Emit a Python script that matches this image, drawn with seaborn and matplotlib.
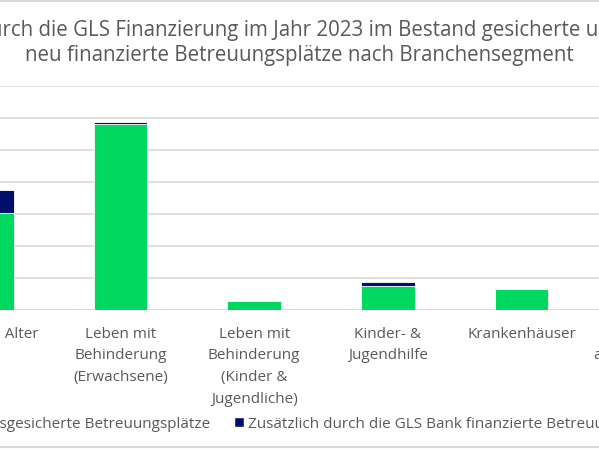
import matplotlib
matplotlib.use('Agg')
import pandas as pd
import seaborn as sns
import matplotlib.pyplot as plt
from matplotlib.patches import Patch

# Branchensegmente (the chart is a crop, outer labels are partly off-canvas)
segments = ['Leben im Alter', 'Leben mit\nBehinderung\n(Erwachsene)',
            'Leben mit\nBehinderung\n(Kinder &\nJugendliche)', 'Kinder- &\nJugendhilfe',
            'Krankenhäuser', 'Sonstige\nambulante Hilfen']
# Betreuungsplätze (gridline step = 1000)
bestand = [3030, 5820, 280, 750, 650, 0]
zusaetzlich = [710, 50, 0, 130, 0, 0]
legend_labels = ['Bestandsgesicherte Betreuungsplätze',
                 'Zusätzlich durch die GLS Bank finanzierte Betreuungsplätze']
title = ('Durch die GLS Finanzierung im Jahr 2023 im Bestand gesicherte und\n'
         'neu finanzierte Betreuungsplätze nach Branchensegment')

green = '#00d85f'
navy = '#000f6e'
grey = '#595959'

sns.set_theme(style='white')
plt.rcParams['font.family'] = ['Open Sans', 'DejaVu Sans']

df = pd.DataFrame({'segment': segments, 'bestand': bestand, 'zusaetzlich': zusaetzlich})
df['gesamt'] = df['bestand'] + df['zusaetzlich']

fig = plt.figure(figsize=(5.99, 4.49), dpi=100)
# axes reach past the canvas on both sides, as in the cropped original
ax = fig.add_axes([-80 / 599, 139 / 449, 802 / 599, 224 / 449])

sns.barplot(data=df, x='segment', y='gesamt', color=navy, width=0.4, saturation=1,
            edgecolor='white', linewidth=0.6, ax=ax, zorder=2)
sns.barplot(data=df, x='segment', y='bestand', color=green, width=0.4, saturation=1,
            edgecolor='white', linewidth=0.6, ax=ax, zorder=3)

ax.set_xlim(-0.5, 5.5)
ax.set_ylim(0, 7000)
ax.set_yticks(range(0, 7001, 1000))
ax.yaxis.grid(True, color='#d9d9d9', linewidth=1.2, zorder=0)
ax.set_axisbelow(True)
ax.set_yticklabels([])
ax.tick_params(axis='y', length=0)
ax.tick_params(axis='x', length=0, pad=12, labelsize=11, colors=grey)
ax.set_xlabel('')
ax.set_ylabel('')
for s in ax.spines.values():
    s.set_visible(False)
ax.axhline(0, color='#d9d9d9', linewidth=1.2, zorder=1)

for lbl in ax.get_xticklabels():
    lbl.set_linespacing(1.62)

fig.text(0.5, 1 - 20 / 449, title, ha='center', va='top', fontsize=14.8,
         color=grey, linespacing=1.22)

handles = [Patch(facecolor=green), Patch(facecolor=navy)]
fig.legend(handles, legend_labels, loc='center', bbox_to_anchor=(0.50, 1 - 424 / 449),
           ncol=2, frameon=False, fontsize=11, labelcolor=grey,
           handlelength=0.6, handleheight=0.6, handletextpad=0.3, columnspacing=1.6)

# light border of the chart area
fig.add_artist(plt.Line2D([0, 1], [1 - 1 / 449, 1 - 1 / 449], color='#d9d9d9', lw=1.5))
fig.add_artist(plt.Line2D([0, 1], [2.5 / 449, 2.5 / 449], color='#d9d9d9', lw=1.5))

fig.savefig('out.png', dpi=100)
